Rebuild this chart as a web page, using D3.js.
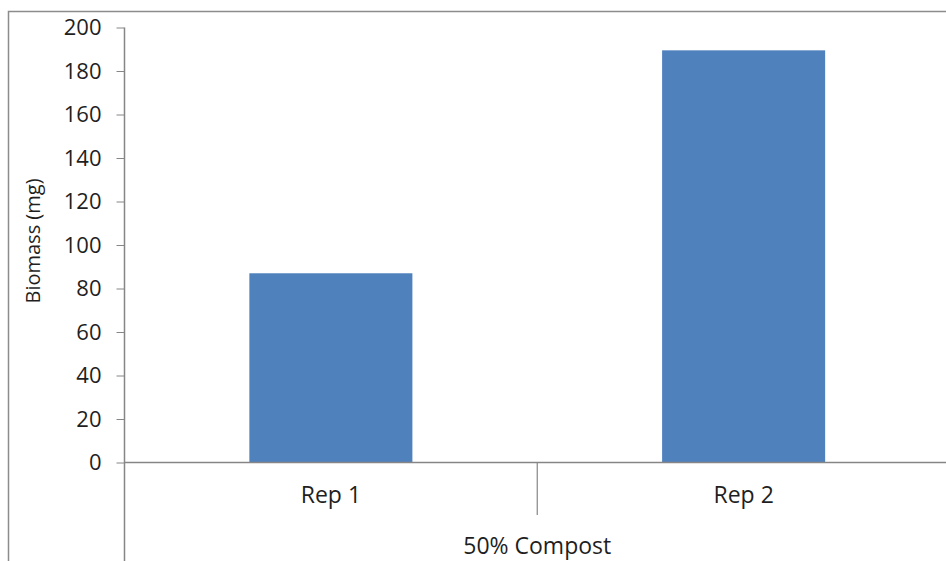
<!doctype html>
<meta charset='utf-8' />
<script src='https://cdn.jsdelivr.net/npm/d3@7'></script>
<style>
    body { margin: 0; background: #fff; }
    text { font-family: 'Open Sans', 'Liberation Sans', sans-serif; fill: #1f1f1f; }
</style>
<svg></svg>
<script>
    var width = 946,
        height = 561

    var reps = ['Rep 1', 'Rep 2']
    var biomass = [87, 189.5]
    var group = '50% Compost'
    var yTicks = [0, 20, 40, 60, 80, 100, 120, 140, 160, 180, 200]

    var margin = { left: 124.5, top: 27.5, right: -4, bottom: 98.5 }

    var svg = d3.select('svg')
        .attr('width', width)
        .attr('height', height)

    // outer chart border
    svg.append('rect')
        .attr('x', 8.5).attr('y', 11.5)
        .attr('width', 945).attr('height', 560)
        .attr('fill', 'none')
        .attr('stroke', '#8c8c8c')
        .attr('stroke-width', 1.5)

    var y = d3.scaleLinear()
        .domain([0, 200])
        .range([height - margin.bottom, margin.top])

    var x = d3.scaleBand()
        .domain(reps)
        .range([margin.left, width - margin.right])
        .padding(0)

    var barW = x.bandwidth() * 0.395

    svg.selectAll('rect.bar')
        .data(reps)
        .enter()
        .append('rect')
        .attr('class', 'bar')
        .attr('x', d => x(d) + (x.bandwidth() - barW) / 2)
        .attr('width', barW)
        .attr('y', (d, i) => y(biomass[i]))
        .attr('height', (d, i) => y(0) - y(biomass[i]))
        .style('fill', '#4f81bd')

    // y axis
    var yAxis = svg.append('g')
        .attr('transform', 'translate(' + margin.left + ',0)')
        .call(d3.axisLeft(y).tickValues(yTicks).tickSize(8).tickPadding(15))
    yAxis.select('.domain').remove()
    yAxis.selectAll('line').attr('stroke', '#868686')
    yAxis.selectAll('text').attr('font-size', 22).style('fill', '#1f1f1f')

    svg.append('line')
        .attr('x1', margin.left).attr('x2', margin.left)
        .attr('y1', y(200)).attr('y2', height)
        .attr('stroke', '#868686').attr('stroke-width', 1.5)

    // x axis
    svg.append('line')
        .attr('x1', margin.left).attr('x2', width)
        .attr('y1', y(0)).attr('y2', y(0))
        .attr('stroke', '#868686').attr('stroke-width', 1.5)

    svg.append('line')
        .attr('x1', x('Rep 2')).attr('x2', x('Rep 2'))
        .attr('y1', y(0)).attr('y2', 515)
        .attr('stroke', '#868686').attr('stroke-width', 1.2)

    svg.selectAll('text.cat')
        .data(reps)
        .enter()
        .append('text')
        .attr('class', 'cat')
        .attr('x', d => x(d) + x.bandwidth() / 2)
        .attr('y', 503)
        .attr('text-anchor', 'middle')
        .attr('font-size', 23)
        .text(d => d)

    svg.append('text')
        .attr('x', x('Rep 2'))
        .attr('y', 554)
        .attr('text-anchor', 'middle')
        .attr('font-size', 23)
        .text(group)

    svg.append('text')
        .attr('transform', 'translate(40,241) rotate(-90)')
        .attr('text-anchor', 'middle')
        .attr('font-size', 20)
        .text('Biomass (mg)')
</script>
